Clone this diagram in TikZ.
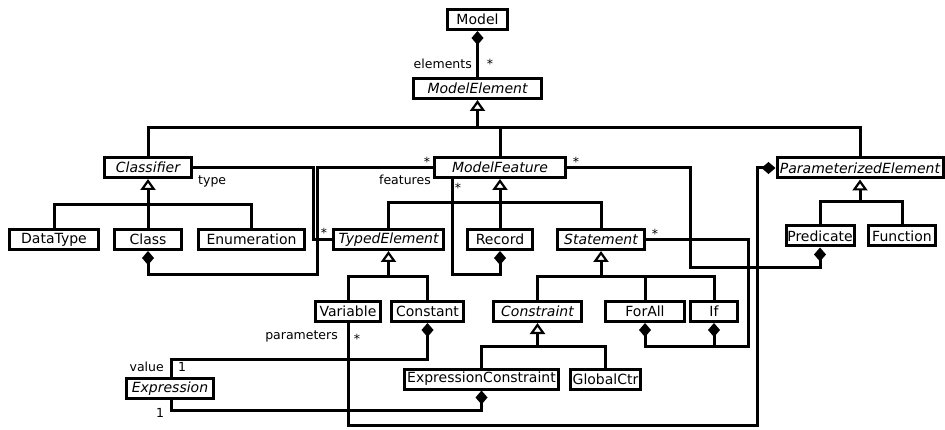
\documentclass[tikz,border=0pt]{standalone}
\usepackage{fontspec}
\setmainfont{DejaVu Sans}
\usetikzlibrary{arrows.meta}
\begin{document}
\begin{tikzpicture}[x=1pt,y=-1pt,
  cls/.style={draw, line width=3pt, minimum height=20pt, inner xsep=1pt, inner ysep=0pt, font=\fontsize{14}{16}\selectfont},
  abs/.style={cls, font=\fontsize{14}{16}\selectfont\itshape},
  conn/.style={line width=3pt},
  gen/.style={conn, -{Triangle[open, length=11pt, width=15pt, line width=2.2pt]}},
  comp/.style={conn, -{Diamond[length=14pt, width=12pt]}},
  lbl/.style={font=\fontsize{12.5}{14}\selectfont, inner sep=0pt}
]
\useasboundingbox (0,0) rectangle (945,430);
% nodes
\node[cls, minimum width=60pt]  (Model) at (477.5,19.5) {Model};
\node[abs, minimum width=128pt] (ModelElement) at (477.5,88.5) {ModelElement};
\node[abs, minimum width=87pt]  (Classifier) at (148,167.5) {Classifier};
\node[abs, minimum width=131pt] (ModelFeature) at (500,167.5) {ModelFeature};
\node[abs, minimum width=166pt] (PE) at (860,168) {ParameterizedElement};
\node[cls, minimum width=89pt]  (DataType) at (54,239.5) {DataType};
\node[cls, minimum width=67pt]  (Class) at (148,239.5) {Class};
\node[cls, minimum width=106pt] (Enumeration) at (251.5,239.5) {Enumeration};
\node[abs, minimum width=110pt] (TypedElement) at (388.5,239.5) {TypedElement};
\node[cls, minimum width=65pt]  (Record) at (500,239.5) {Record};
\node[abs, minimum width=87pt]  (Statement) at (601,239.5) {Statement};
\node[cls, minimum width=68pt]  (Predicate) at (820,236) {Predicate};
\node[cls, minimum width=67pt]  (Function) at (902,236) {Function};
\node[cls, minimum width=65pt]  (Variable) at (348,311.5) {Variable};
\node[cls, minimum width=72pt]  (Constant) at (427.5,311.5) {Constant};
\node[abs, minimum width=88pt]  (Constraint) at (537.5,311.5) {Constraint};
\node[cls, minimum width=79pt]  (ForAll) at (645,311.5) {ForAll};
\node[cls, minimum width=47pt]  (If) at (714,311.5) {If};
\node[cls, minimum width=154pt] (ExprCtr) at (481.5,379) {ExpressionConstraint};
\node[cls, minimum width=70pt]  (GlobalCtr) at (605.5,379) {GlobalCtr};
\node[abs, minimum width=87pt]  (Expression) at (170,388.5) {Expression};

% generalization buses
\coordinate (b0) at (477.5,128);
\draw[gen] (b0) -- (ModelElement.south);
\draw[conn] (Classifier.north) |- (b0) -| (PE.north);
\draw[conn] (ModelFeature.north) -- (ModelFeature.north |- b0);

\coordinate (b1) at (148,205);
\draw[gen] (b1) -- (Classifier.south);
\draw[conn] (DataType.north) |- (b1) -| (Enumeration.north);
\draw[conn] (Class.north) -- (b1);

\coordinate (b2) at (500,203);
\draw[gen] (b2) -- (ModelFeature.south);
\draw[conn] (TypedElement.north) |- (b2) -| (Statement.north);
\draw[conn] (Record.north) -- (b2);

\coordinate (b3) at (860,202);
\draw[gen] (b3) -- (PE.south);
\draw[conn] (Predicate.north) |- (b3) -| (Function.north);

\coordinate (b4) at (388.5,277);
\draw[gen] (b4) -- (TypedElement.south);
\draw[conn] (Variable.north) |- (b4) -| (Constant.north);

\coordinate (b5) at (601,277);
\draw[gen] (b5) -- (Statement.south);
\draw[conn] (Constraint.north) |- (b5) -| (If.north);
\draw[conn] (ForAll.north) -- (ForAll.north |- b5);

\coordinate (b6) at (537.5,346);
\draw[gen] (b6) -- (Constraint.south);
\draw[conn] (ExprCtr.north) |- (b6) -| (GlobalCtr.north);

% compositions and associations
\draw[comp] (ModelElement.north) -- (Model.south);
\node[lbl, anchor=east] (lElements) at (472,64) {elements};
\node[lbl] (sElements) at (490,64) {*};

\coordinate (tA) at (313,200);
\draw[conn] (Classifier.east) -| (tA) |- (TypedElement.west);
\node[lbl, anchor=west] (lType) at (198,181) {type};
\node[lbl] (sType) at (324,233) {*};

\coordinate (fA) at (317,275);
\draw[comp] (ModelFeature.west) -| (fA) -| (Class.south);
\node[lbl] (sFeat) at (427,162) {*};
\node[lbl, anchor=east] (lFeat) at (431,180) {features};

\coordinate (rA) at (452,275);
\draw[comp] (ModelFeature.south -| rA) -- (rA) -| (Record.south);
\node[lbl] (sRec) at (458,188) {*};

\coordinate (pA) at (690,268);
\draw[comp] (ModelFeature.east) -| (pA) -| (Predicate.south);
\node[lbl] (sPred) at (576,162) {*};

\coordinate (sA) at (748,346);
\draw[comp] (Statement.east) -| (sA) -| (ForAll.south);
\draw[comp] (If.south |- sA) -- (If.south);
\node[lbl] (sStat) at (655,234) {*};

\coordinate (vA) at (757,425);
\draw[comp] (Variable.south) |- (vA) |- (PE.west);
\node[lbl, anchor=east] (lParam) at (338,336) {parameters};
\node[lbl] (sParam) at (357,339) {*};

\coordinate (cA) at (171,359);
\draw[comp] (Expression.north -| cA) |- (Constant.south |- cA) -- (Constant.south);
\node[lbl, anchor=east] (lValue) at (164,367) {value};
\node[lbl] (oValue) at (182,367) {1};

\coordinate (eA) at (171,410);
\draw[comp] (Expression.south -| eA) |- (ExprCtr.south |- eA) -- (ExprCtr.south);
\node[lbl] (oExpr) at (160,413) {1};
\end{tikzpicture}
\end{document}
